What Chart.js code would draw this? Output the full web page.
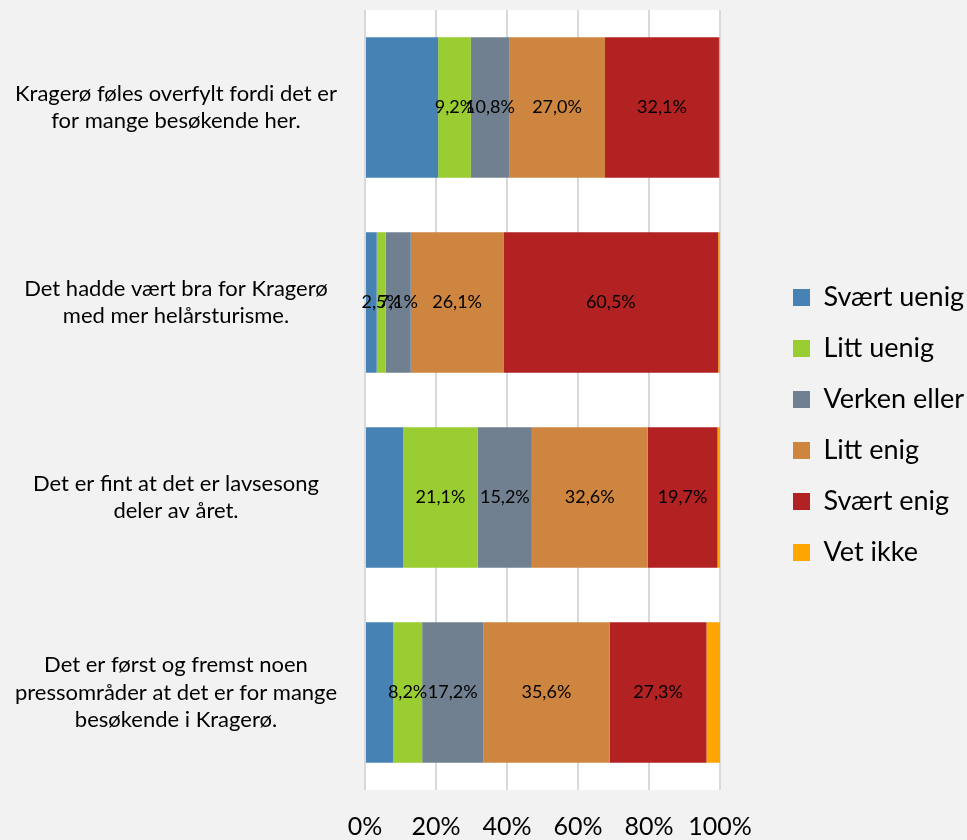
<!DOCTYPE html>
<html>
<head>
<meta charset="utf-8">
<script src="https://cdn.jsdelivr.net/npm/chart.js@4/dist/chart.umd.min.js"></script>
<style>
  html, body { margin: 0; padding: 0; background: #f2f2f2; }
  #wrap { width: 967px; height: 840px; }
</style>
</head>
<body>
<div id="wrap"><canvas id="chart" width="967" height="840"></canvas></div>
<script>
// categories (statements) and answer series, in percent
const categories = [
    ['Kragerø føles overfylt fordi det er', 'for mange besøkende her.'],
    ['Det hadde vært bra for Kragerø', 'med mer helårsturisme.'],
    ['Det er fint at det er lavsesong', 'deler av året.'],
    ['Det er først og fremst noen', 'pressområder at det er for mange', 'besøkende i Kragerø.']
];
const seriesNames = ['Svært uenig', 'Litt uenig', 'Verken eller', 'Litt enig', 'Svært enig', 'Vet ikke'];
const svaertUenig = [20.6, 3.3, 10.7, 7.9];
const littUenig   = [9.2, 2.5, 21.1, 8.2];
const verkenEller = [10.8, 7.1, 15.2, 17.2];
const littEnig    = [27.0, 26.1, 32.6, 35.6];
const svaertEnig  = [32.1, 60.5, 19.7, 27.3];
const vetIkke     = [0.3, 0.5, 0.7, 3.8];
const tickValues  = [0, 20, 40, 60, 80, 100];

const colors = ['#4682B4', '#9ACD32', '#708090', '#CD853F', '#B22222', '#FFA500'];
const seriesValues = [svaertUenig, littUenig, verkenEller, littEnig, svaertEnig, vetIkke];
// which series get a value label in the bar
const showLabel = [false, true, true, true, true, false];

const FONT = 'Lato, "Noto Sans", sans-serif';

// white plot area on grey background
const plotBg = {
    id: 'plotBg',
    beforeDraw(chart) {
        const {ctx, chartArea: a} = chart;
        ctx.save();
        ctx.fillStyle = '#ffffff';
        ctx.fillRect(a.left, a.top, a.right - a.left, a.bottom - a.top);
        ctx.restore();
    }
};

// value labels centred in each segment
const barLabels = {
    id: 'barLabels',
    afterDatasetsDraw(chart) {
        const ctx = chart.ctx;
        ctx.save();
        ctx.font = '18px ' + FONT;
        ctx.fillStyle = '#000000';
        ctx.textAlign = 'center';
        ctx.textBaseline = 'middle';
        chart.data.datasets.forEach((ds, i) => {
            if (!showLabel[i]) return;
            chart.getDatasetMeta(i).data.forEach((bar, j) => {
                const txt = ds.data[j].toFixed(1).replace('.', ',') + '%';
                ctx.fillText(txt, (bar.x + bar.base) / 2, bar.y);
            });
        });
        ctx.restore();
    }
};

// legend box wider, items pushed right
const legendFit = {
    id: 'legendFit',
    beforeInit(chart) {
        const fit = chart.legend.fit;
        chart.legend.fit = function () {
            fit.bind(chart.legend)();
            this.width = 247;
        };
    },
    afterLayout(chart) {
        chart.legend.left += 49;
    }
};

new Chart(document.getElementById('chart'), {
    type: 'bar',
    data: {
        labels: categories,
        datasets: seriesValues.map((vals, i) => ({
            label: seriesNames[i],
            data: vals,
            backgroundColor: colors[i],
            borderWidth: 0,
            categoryPercentage: 1,
            barPercentage: 0.72
        }))
    },
    options: {
        indexAxis: 'y',
        responsive: false,
        animation: false,
        layout: { padding: { top: 10, left: 0, right: 0, bottom: 0 } },
        scales: {
            x: {
                stacked: true,
                min: 0,
                max: 100,
                afterBuildTicks(scale) {
                    scale.ticks = tickValues.map(v => ({ value: v }));
                },
                afterFit(scale) { scale.height = 50; },
                grid: { color: '#d9d9d9', lineWidth: 2, drawTicks: false },
                border: { display: false },
                ticks: {
                    padding: 22,
                    color: '#000000',
                    font: { family: FONT, size: 25 },
                    callback: v => v + '%'
                }
            },
            y: {
                stacked: true,
                afterFit(scale) {
                    scale.width = 365;
                    scale.paddingTop = 0;
                    scale.paddingBottom = 0;
                },
                grid: { display: false },
                border: { display: false },
                ticks: {
                    crossAlign: 'center',
                    padding: 20,
                    color: '#000000',
                    font: { family: FONT, size: 22, lineHeight: 1.25 }
                }
            }
        },
        plugins: {
            legend: {
                position: 'right',
                labels: {
                    boxWidth: 17,
                    boxHeight: 17,
                    padding: 24,
                    color: '#000000',
                    font: { family: FONT, size: 27 }
                }
            },
            tooltip: { enabled: false }
        }
    },
    plugins: [plotBg, barLabels, legendFit]
});
</script>
</body>
</html>
